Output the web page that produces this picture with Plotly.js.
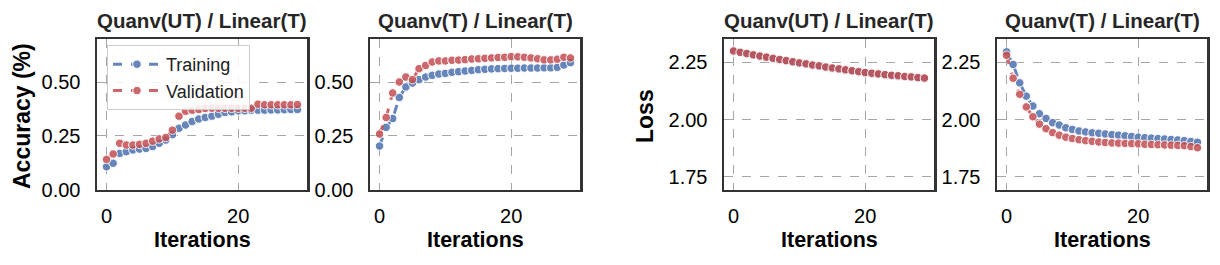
<!DOCTYPE html>
<html>
<head>
<meta charset="utf-8">
<script src="https://cdn.plot.ly/plotly-3.0.1.min.js"></script>
<style>html,body{margin:0;padding:0;background:#fff;}#chart{width:1220px;height:265px;}</style>
</head>
<body>
<div id="chart"></div>
<script>
const iterations = [0,1,2,3,4,5,6,7,8,9,10,11,12,13,14,15,16,17,18,19,20,21,22,23,24,25,26,27,28,29];

const accTrainUT = [0.106,0.122,0.168,0.176,0.184,0.188,0.191,0.200,0.215,0.230,0.255,0.285,0.300,0.316,0.328,0.335,0.341,0.350,0.358,0.361,0.366,0.366,0.369,0.369,0.369,0.370,0.370,0.371,0.372,0.372];
const accValUT   = [0.140,0.165,0.215,0.207,0.207,0.210,0.215,0.225,0.235,0.242,0.276,0.341,0.364,0.369,0.372,0.377,0.378,0.378,0.378,0.378,0.378,0.378,0.378,0.397,0.394,0.394,0.394,0.394,0.394,0.395];
const accTrainT  = [0.202,0.289,0.330,0.428,0.477,0.495,0.511,0.523,0.531,0.537,0.540,0.545,0.548,0.551,0.554,0.557,0.559,0.561,0.562,0.563,0.564,0.564,0.565,0.565,0.565,0.566,0.566,0.568,0.579,0.590];
const accValT    = [0.258,0.335,0.449,0.500,0.523,0.511,0.562,0.577,0.593,0.598,0.598,0.601,0.602,0.604,0.607,0.608,0.610,0.612,0.614,0.615,0.618,0.617,0.615,0.612,0.608,0.603,0.603,0.606,0.615,0.612];

const lossTrainUT = [2.298,2.292,2.286,2.281,2.275,2.270,2.265,2.260,2.255,2.250,2.245,2.241,2.236,2.232,2.227,2.223,2.219,2.215,2.211,2.207,2.203,2.200,2.197,2.194,2.191,2.189,2.186,2.184,2.181,2.179];
const lossValUT   = [2.299,2.293,2.288,2.282,2.277,2.272,2.267,2.262,2.257,2.252,2.247,2.243,2.238,2.234,2.229,2.225,2.221,2.217,2.213,2.209,2.205,2.202,2.199,2.196,2.193,2.191,2.188,2.186,2.183,2.181];
const lossTrainT  = [2.295,2.240,2.160,2.102,2.059,2.025,2.005,1.986,1.976,1.964,1.957,1.950,1.946,1.942,1.940,1.937,1.934,1.932,1.929,1.926,1.923,1.921,1.919,1.917,1.915,1.913,1.911,1.908,1.904,1.901];
const lossValT    = [2.280,2.180,2.110,2.055,2.012,1.980,1.960,1.943,1.932,1.923,1.917,1.912,1.908,1.905,1.902,1.900,1.898,1.897,1.896,1.895,1.894,1.892,1.891,1.890,1.889,1.888,1.887,1.886,1.882,1.877];

const panelTitles = ["Quanv(UT) / Linear(T)", "Quanv(T) / Linear(T)", "Quanv(UT) / Linear(T)", "Quanv(T) / Linear(T)"];
const seriesNames = ["Training", "Validation"];
const xTicks = [0, 20];
const accTicks = [0.00, 0.25, 0.50];
const lossTicks = [1.75, 2.00, 2.25];

const W = 1220, H = 265;
const FONT = '"Liberation Sans", Arial, Helvetica, sans-serif';
const BLUE = '#4C72B0', RED = '#C44E52';
const px = v => v / W;
const py = v => (H - v) / H;

const panelsX = [[97,307],[370,580],[724,934],[997,1207]];
const panelY = [39, 189.5];

function trace(y, color, name, idx, showleg) {
  const s = idx === 0 ? '' : String(idx + 1);
  return {
    x: iterations, y: y, name: name, type: 'scatter', mode: 'lines+markers',
    xaxis: 'x' + s, yaxis: 'y' + s, showlegend: showleg, opacity: 0.85,
    line: {color: color, width: 3, dash: 'dash'},
    marker: {color: color, size: 8.5, line: {color: '#ffffff', width: 1}}
  };
}

const data = [
  trace(accTrainUT, BLUE, seriesNames[0], 0, true),
  trace(accValUT, RED, seriesNames[1], 0, true),
  trace(accTrainT, BLUE, seriesNames[0], 1, false),
  trace(accValT, RED, seriesNames[1], 1, false),
  trace(lossTrainUT, BLUE, seriesNames[0], 2, false),
  trace(lossValUT, RED, seriesNames[1], 2, false),
  trace(lossTrainT, BLUE, seriesNames[0], 3, false),
  trace(lossValT, RED, seriesNames[1], 3, false)
];

const TICKSIZE = 20;
const layout = {
  width: W, height: H,
  margin: {l: 0, r: 0, t: 0, b: 0},
  paper_bgcolor: '#fff', plot_bgcolor: '#fff',
  font: {family: FONT, size: TICKSIZE, color: '#000'},
  showlegend: true,
  legend: {
    x: px(107), y: py(45), xanchor: 'left', yanchor: 'top',
    bgcolor: 'rgba(255,255,255,0.85)', bordercolor: '#cccccc', borderwidth: 1,
    font: {family: FONT, size: 18, color: '#222'}, tracegroupgap: 0, itemwidth: 48
  },
  annotations: []
};

for (let i = 0; i < 4; i++) {
  const s = i === 0 ? '' : String(i + 1);
  const isAcc = i < 2;
  layout['xaxis' + s] = {
    domain: [px(panelsX[i][0]), px(panelsX[i][1])],
    anchor: 'y' + s, range: [-1.45, 30.45],
    tickvals: xTicks, ticktext: xTicks.map(String),
    ticks: 'outside', ticklen: 7, tickcolor: 'rgba(0,0,0,0)',
    showgrid: true, gridcolor: '#a6a6a6', griddash: 'dash', gridwidth: 1,
    showline: true, mirror: true, linecolor: '#333', linewidth: 2.5,
    zeroline: false, automargin: false,
    tickfont: {family: FONT, size: TICKSIZE, color: '#000'}
  };
  layout['yaxis' + s] = {
    domain: [py(panelY[1]), py(panelY[0])],
    anchor: 'x' + s,
    range: isAcc ? [0, 0.70] : [1.695, 2.351],
    tickvals: isAcc ? accTicks : lossTicks,
    ticktext: (isAcc ? accTicks : lossTicks).map(v => v.toFixed(2)),
    ticks: 'outside', ticklen: 10, tickcolor: 'rgba(0,0,0,0)',
    showgrid: true, gridcolor: '#a6a6a6', griddash: 'dash', gridwidth: 1,
    showline: true, mirror: true, linecolor: '#333', linewidth: 2.5,
    zeroline: false, automargin: false,
    tickfont: {family: FONT, size: TICKSIZE, color: '#000'}
  };
  const cx = (panelsX[i][0] + panelsX[i][1]) / 2;
  layout.annotations.push({
    text: '<b>' + panelTitles[i] + '</b>', xref: 'paper', yref: 'paper',
    x: px(cx), y: py(21), xanchor: 'center', yanchor: 'middle', showarrow: false,
    font: {family: FONT, size: 20.5, color: '#262626'}
  });
  layout.annotations.push({
    text: '<b>Iterations</b>', xref: 'paper', yref: 'paper',
    x: px(cx), y: py(240), xanchor: 'center', yanchor: 'middle', showarrow: false,
    font: {family: FONT, size: 21.5, color: '#000'}
  });
}
layout.annotations.push({
  text: '<b>Accuracy (%)</b>', xref: 'paper', yref: 'paper', textangle: -90,
  x: px(22), y: py(116), xanchor: 'center', yanchor: 'middle', showarrow: false,
  font: {family: FONT, size: 23, color: '#000'}
});
layout.annotations.push({
  text: '<b>Loss</b>', xref: 'paper', yref: 'paper', textangle: -90,
  x: px(645), y: py(116), xanchor: 'center', yanchor: 'middle', showarrow: false,
  font: {family: FONT, size: 23, color: '#000'}
});

Plotly.newPlot('chart', data, layout, {staticPlot: true, displayModeBar: false});
</script>
</body>
</html>
